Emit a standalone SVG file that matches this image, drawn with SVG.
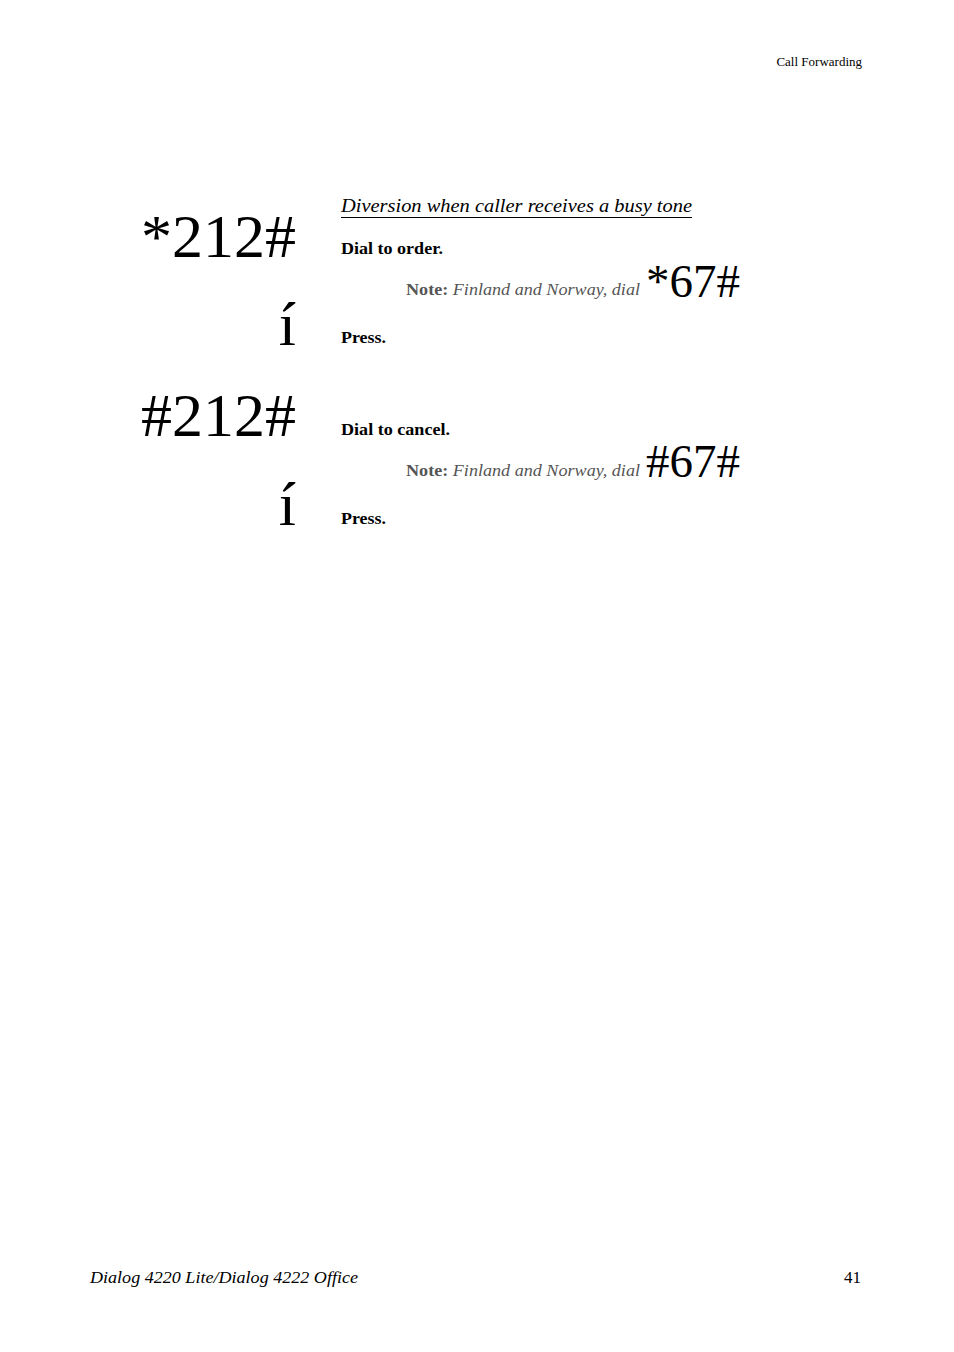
<svg xmlns="http://www.w3.org/2000/svg" width="954" height="1352" viewBox="0 0 954 1352">
<style>
text{font-family:"Liberation Serif","Times New Roman",serif;fill:#000}
.key{font-size:62px}
.small{font-size:47px}
.step{font-size:17px;font-weight:bold}
.note{font-size:17px;fill:#555}
.note .b{font-weight:bold}
.note .i{font-style:italic}
.head{font-size:19px;font-style:italic}
</style>
<rect width="954" height="1352" fill="#fff"/>
<g id="header"><text x="862" y="66" font-size="13" text-anchor="end">Call Forwarding</text></g>
<g id="title">
<text class="head" x="341" y="212" textLength="351" lengthAdjust="spacingAndGlyphs">Diversion when caller receives a busy tone</text>
<line x1="341" y1="217.5" x2="692" y2="217.5" stroke="#000" stroke-width="1"/>
</g>
<g id="order">
<text class="key" x="296" y="257" text-anchor="end">*212#</text>
<text class="step" x="341" y="254" textLength="102" lengthAdjust="spacingAndGlyphs">Dial to order.</text>
</g>
<g id="note1">
<text class="note" x="406" y="295" textLength="234" lengthAdjust="spacingAndGlyphs"><tspan class="b">Note:</tspan> <tspan class="i">Finland and Norway, dial</tspan></text>
<text class="small" x="740" y="297" text-anchor="end">*67#</text>
</g>
<g id="press1">
<text class="key" x="296" y="345" text-anchor="end">í</text>
<text class="step" x="341" y="343" textLength="45" lengthAdjust="spacingAndGlyphs">Press.</text>
</g>
<g id="cancel">
<text class="key" x="296" y="436" text-anchor="end">#212#</text>
<text class="step" x="341" y="435" textLength="109" lengthAdjust="spacingAndGlyphs">Dial to cancel.</text>
</g>
<g id="note2">
<text class="note" x="406" y="476" textLength="234" lengthAdjust="spacingAndGlyphs"><tspan class="b">Note:</tspan> <tspan class="i">Finland and Norway, dial</tspan></text>
<text class="small" x="740" y="477" text-anchor="end">#67#</text>
</g>
<g id="press2">
<text class="key" x="296" y="525" text-anchor="end">í</text>
<text class="step" x="341" y="524" textLength="45" lengthAdjust="spacingAndGlyphs">Press.</text>
</g>
<g id="footer">
<text x="90" y="1283" font-size="17" font-style="italic" textLength="268" lengthAdjust="spacingAndGlyphs">Dialog 4220 Lite/Dialog 4222 Office</text>
<text x="861" y="1283" font-size="17" text-anchor="end">41</text>
</g>
</svg>
